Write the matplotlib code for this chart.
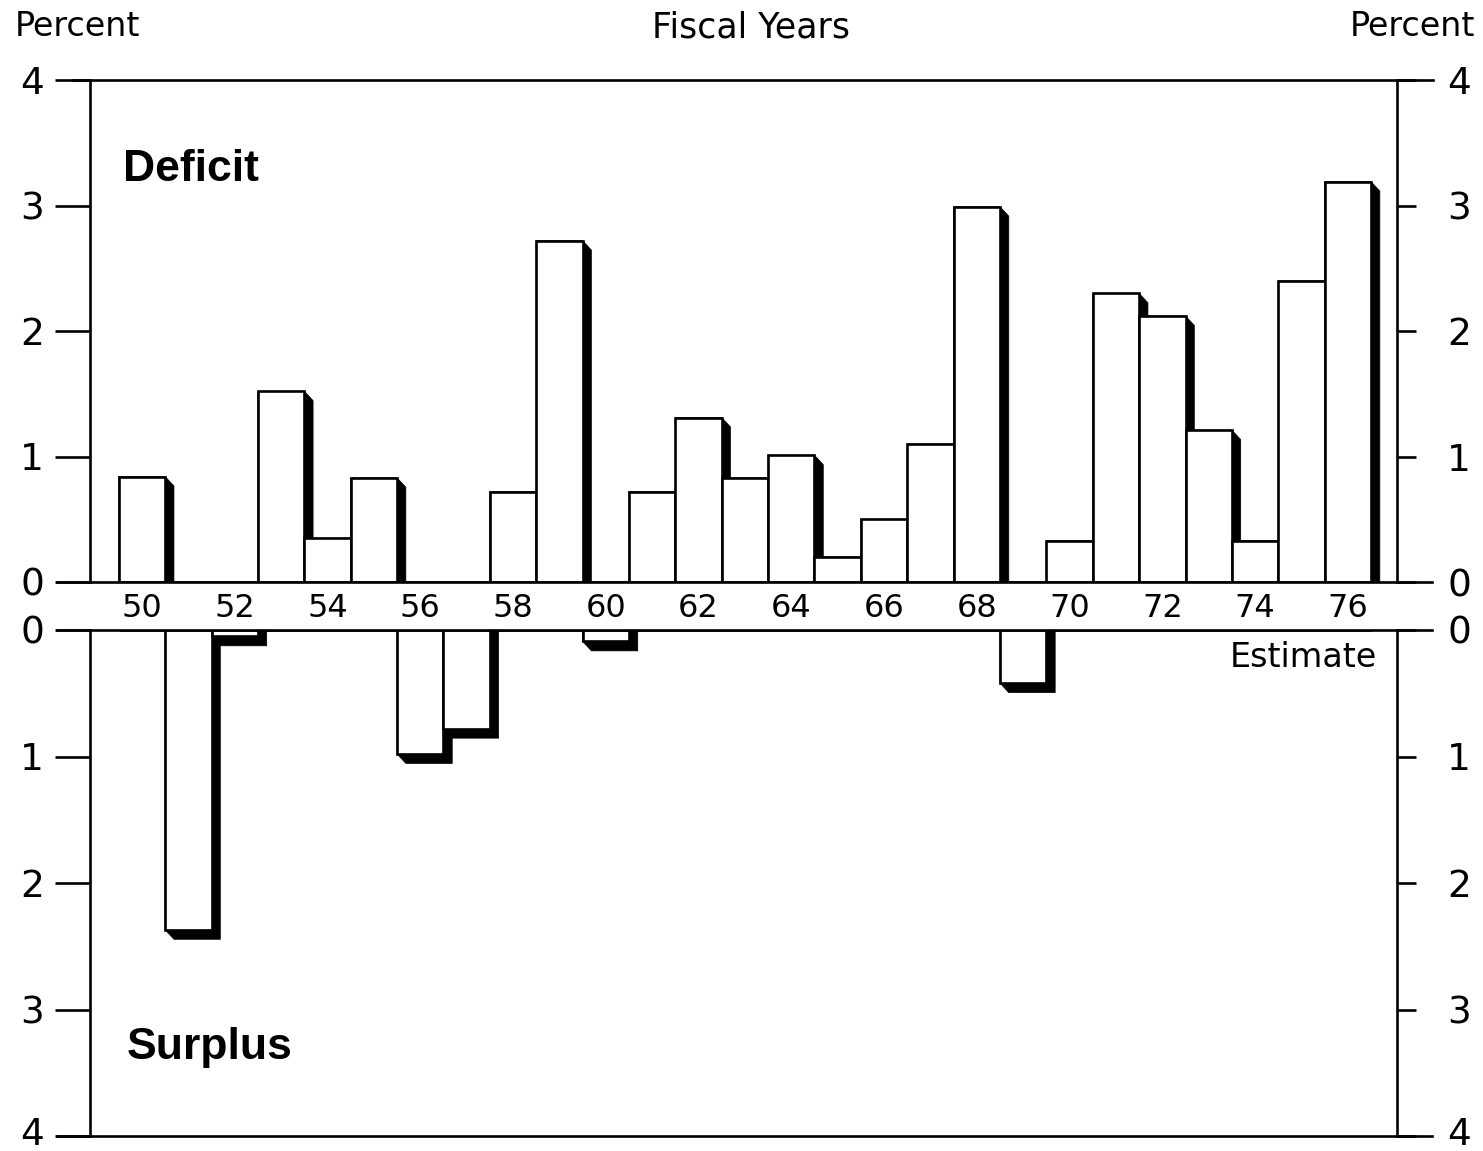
import matplotlib.pyplot as plt
from matplotlib.patches import Polygon
from matplotlib.transforms import ScaledTranslation

years = list(range(1950, 1977))
# percent of GNP: positive = deficit, negative = surplus
values = [0.84, -2.37, -0.05, 1.52, 0.35, 0.83, -0.98, -0.78, 0.72, 2.72,
          -0.09, 0.72, 1.31, 0.83, 1.01, 0.20, 0.50, 1.10, 2.99, -0.42,
          0.33, 2.30, 2.12, 1.21, 0.33, 2.40, 3.19]
year_labels = [str(y)[2:] for y in years[::2]]
pct_ticks = [0, 1, 2, 3, 4]

deficit = [v if v > 0 else 0 for v in values]
surplus = [-v if v < 0 else 0 for v in values]

W, H = 1483, 1151
fig = plt.figure(figsize=(W / 100, H / 100), dpi=100)
x0, x1 = 90, 1397
ax_top = fig.add_axes([x0 / W, 1 - 582 / H, (x1 - x0) / W, (582 - 80) / H])
ax_bot = fig.add_axes([x0 / W, 1 - 1136 / H, (x1 - x0) / W, (1136 - 630) / H])

xmin, xmax = 1948.88, 1977.06
lw = 1.9
dx = 0.19  # shadow offset in years
dy = 0.075

for ax, vals, inverted in [(ax_top, deficit, False), (ax_bot, surplus, True)]:
    ax.set_xlim(xmin, xmax)
    lims = (4, 0) if inverted else (0, 4)
    ax.set_ylim(*lims)
    for y, v in zip(years, vals):
        if v <= 0:
            continue
        l, r = y - 0.5, y + 0.5
        if not inverted:
            pts = [(l, 0), (l, v), (r, v), (r + dx, v - dy), (r + dx, 0)]
        else:
            pts = [(l, 0), (r + dx, 0), (r + dx, v + dy), (l + dx, v + dy), (l, v)]
        ax.add_patch(Polygon(pts, closed=True, facecolor='black',
                             edgecolor='black', lw=0.5, zorder=2))
    ax.bar(years, vals, width=1.0, color='white', edgecolor='black',
           linewidth=lw, zorder=3)

    for s in ['top', 'bottom', 'right']:
        ax.spines[s].set_visible(False)
    ax.spines['left'].set_linewidth(lw)
    ax.set_yticks(pct_ticks)
    ax.tick_params(axis='y', length=25, width=lw, pad=8, labelsize=27,
                   labelfontfamily='DejaVu Sans')
    ax.set_xticks([])

    # right-hand scale with shorter ticks
    axr = ax.twinx()
    axr.set_ylim(*lims)
    axr.set_yticks(pct_ticks)
    for s in ['top', 'bottom', 'left']:
        axr.spines[s].set_visible(False)
    axr.spines['right'].set_linewidth(lw)
    axr.tick_params(axis='y', length=14, width=lw, pad=22, labelsize=27,
                    labelfontfamily='DejaVu Sans')
    if inverted:
        shift = ScaledTranslation(0, 5 / 100, fig.dpi_scale_trans)
        for a in (ax, axr):
            for lab in a.get_yticklabels():
                if lab.get_text() == '4':
                    lab.set_transform(lab.get_transform() + shift)

# year labels under the deficit panel
ax_top.set_xticks(years[::2])
ax_top.set_xticklabels(year_labels, fontsize=23, family='DejaVu Sans')
ax_top.tick_params(axis='x', length=0, pad=8)

# long horizontal rules
tr_top = ax_top.get_yaxis_transform()
tr_bot = ax_bot.get_yaxis_transform()
ax_top.plot([-0.013, 1.0276], [4, 4], color='black', lw=lw, transform=tr_top, clip_on=False, zorder=5)
ax_top.plot([-0.025, 1.0268], [0, 0], color='black', lw=lw, transform=tr_top, clip_on=False, zorder=5)
ax_bot.plot([-0.025, 1.0268], [0, 0], color='black', lw=lw, transform=tr_bot, clip_on=False, zorder=5)
ax_bot.plot([-0.025, 1.0268], [4, 4], color='black', lw=lw, transform=tr_bot, clip_on=False, zorder=5)

ax_top.text(0.025, 3.29, 'Deficit', transform=tr_top, fontsize=32, fontweight='bold',
            family='Liberation Sans', va='center', ha='left')
ax_bot.text(0.028, 3.30, 'Surplus', transform=tr_bot, fontsize=32, fontweight='bold',
            family='Liberation Sans', va='center', ha='left')
ax_bot.text(1976.62, 0.22, 'Estimate', fontsize=24, family='DejaVu Sans',
            va='center', ha='right')

fig.text(15 / W, 1 - 27 / H, 'Percent', fontsize=24, family='DejaVu Sans', ha='left', va='center')
fig.text(1475 / W, 1 - 27 / H, 'Percent', fontsize=24, family='DejaVu Sans', ha='right', va='center')
fig.text(751 / W, 1 - 27 / H, 'Fiscal Years', fontsize=25, family='DejaVu Sans', ha='center', va='center')

fig.savefig('out.png', dpi=100, facecolor='white')
